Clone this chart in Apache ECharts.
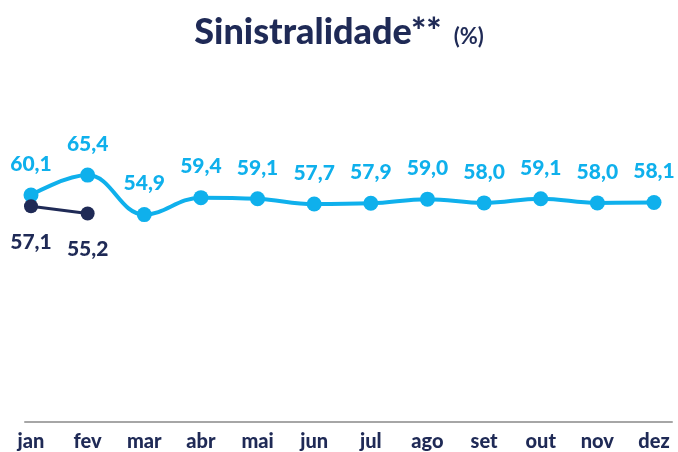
<!DOCTYPE html>
<html>
<head>
<meta charset="utf-8">
<script src="https://cdn.jsdelivr.net/npm/echarts@6/dist/echarts.min.js"></script>
<style>
  html, body { margin: 0; padding: 0; background: #fff; }
  #chart { width: 678px; height: 452px; }
</style>
</head>
<body>
<div id="chart"></div>
<script>
// meses e sinistralidade (%)
var months = ['jan', 'fev', 'mar', 'abr', 'mai', 'jun', 'jul', 'ago', 'set', 'out', 'nov', 'dez'];
var prevYear = [60.1, 65.4, 54.9, 59.4, 59.1, 57.7, 57.9, 59.0, 58.0, 59.1, 58.0, 58.1];
var curYear = [57.1, 55.2];

var lightBlue = '#0fb0ec';
var navy = '#1f2a56';
var fontFamily = 'Lato, "Open Sans", sans-serif';

function fmt(p) {
    return p.value.toFixed(1).replace('.', ',');
}

var myChart = echarts.init(document.getElementById('chart'));

var option = {
    animation: false,
    title: {
        text: '{main|Sinistralidade**}{unit|(%)}',
        left: 'center',
        top: 9,
        textStyle: {
            rich: {
                main: { fontFamily: fontFamily, fontSize: 36, fontWeight: 900, color: navy },
                unit: { fontFamily: fontFamily, fontSize: 22, color: navy, padding: [9, 0, 0, 12] }
            }
        }
    },
    grid: [
        { left: 31, right: 24, top: 45, bottom: 30 },
        { left: 25, right: 6, top: 45, bottom: 30 }
    ],
    xAxis: [
        {
            type: 'category',
            gridIndex: 0,
            data: months,
            boundaryGap: false,
            axisLine: { show: false },
            axisTick: { show: false },
            axisLabel: {
                color: navy,
                fontFamily: fontFamily,
                fontSize: 20,
                fontWeight: 900,
                margin: 11
            }
        },
        {
            type: 'category',
            gridIndex: 1,
            data: months,
            axisLine: { show: true, lineStyle: { color: '#a6a6a6', width: 2 } },
            axisTick: { show: false },
            axisLabel: { show: false }
        }
    ],
    yAxis: [
        { type: 'value', gridIndex: 0, min: 0, max: 100, show: false },
        { type: 'value', gridIndex: 1, min: 0, max: 100, show: false }
    ],
    series: [
        {
            type: 'line',
            data: prevYear,
            smooth: 0.4,
            symbol: 'circle',
            symbolSize: 15,
            itemStyle: { color: lightBlue },
            lineStyle: { color: lightBlue, width: 4 },
            label: {
                show: true,
                position: 'top',
                distance: 13,
                formatter: fmt,
                color: lightBlue,
                fontFamily: fontFamily,
                fontSize: 21,
                fontWeight: 900
            },
            z: 2
        },
        {
            type: 'line',
            data: curYear,
            symbol: 'circle',
            symbolSize: 14,
            itemStyle: { color: navy },
            lineStyle: { color: navy, width: 3 },
            label: {
                show: true,
                position: 'bottom',
                distance: 18,
                formatter: fmt,
                color: navy,
                fontFamily: fontFamily,
                fontSize: 21,
                fontWeight: 900
            },
            z: 3
        }
    ]
};

myChart.setOption(option);
</script>
</body>
</html>
